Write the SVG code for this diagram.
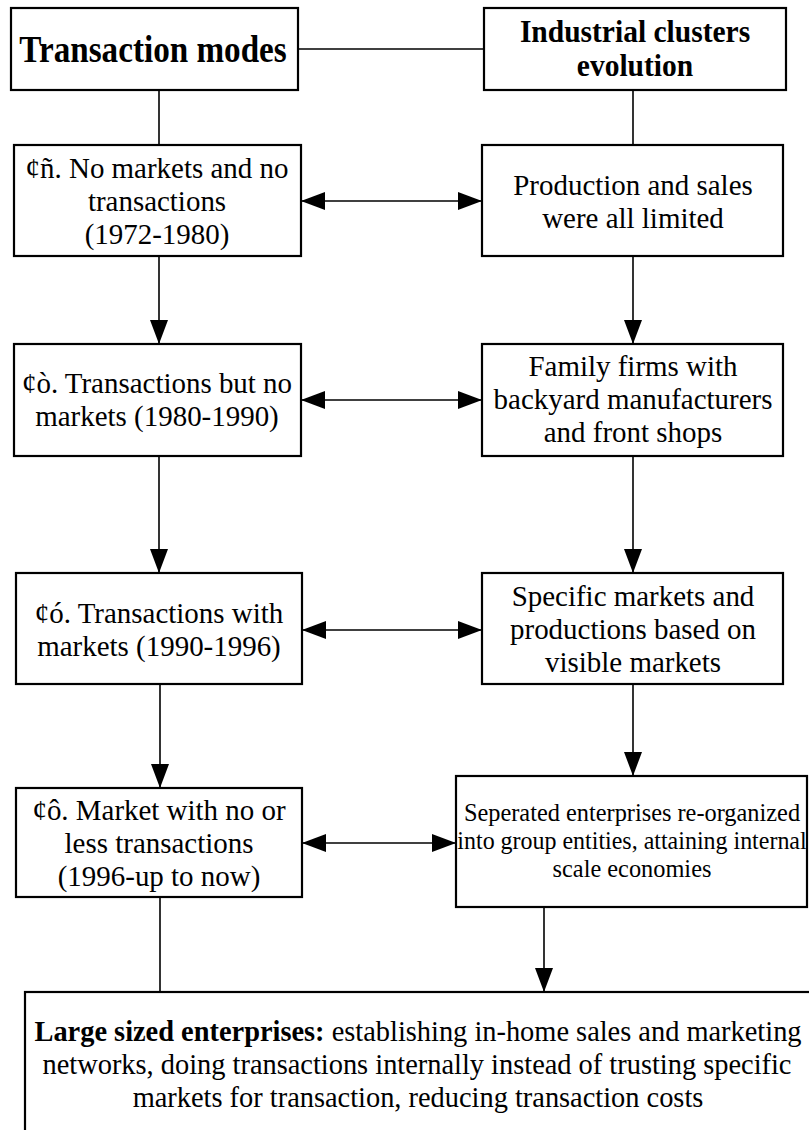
<svg xmlns="http://www.w3.org/2000/svg" width="809" height="1130" viewBox="0 0 809 1130">
<style>
  .box { fill: #fff; stroke: #000; stroke-width: 2.2; }
  .ln { fill: none; stroke: #000; stroke-width: 1.6; }
  .t { font-family: "Liberation Serif", "Times New Roman", serif; font-size: 30px; fill: #000; text-anchor: middle; }
  .hb { font-weight: bold; }
  .h1 { font-size: 38px; }
  .h2 { font-size: 31px; }
  .sm { font-size: 25.5px; }
  .bt { font-size: 29.5px; }
</style>
<defs>
  <marker id="ah" markerUnits="userSpaceOnUse" markerWidth="26" markerHeight="18" refX="24" refY="9" orient="auto-start-reverse">
    <path d="M0,0 L24,9 L0,18 z" fill="#000"/>
  </marker>
</defs>
<rect width="809" height="1130" fill="#fff"/>

<g id="connectors">
  <line class="ln" x1="298" y1="49" x2="484" y2="49"/>
  <line class="ln" x1="159" y1="90" x2="159" y2="145"/>
  <line class="ln" x1="633" y1="90" x2="633" y2="145"/>
  <line class="ln" x1="301" y1="201" x2="482" y2="201" marker-start="url(#ah)" marker-end="url(#ah)"/>
  <line class="ln" x1="301" y1="400" x2="482" y2="400" marker-start="url(#ah)" marker-end="url(#ah)"/>
  <line class="ln" x1="302" y1="630" x2="482" y2="630" marker-start="url(#ah)" marker-end="url(#ah)"/>
  <line class="ln" x1="302" y1="843" x2="456" y2="843" marker-start="url(#ah)" marker-end="url(#ah)"/>
  <line class="ln" x1="159" y1="256" x2="159" y2="344" marker-end="url(#ah)"/>
  <line class="ln" x1="633" y1="256" x2="633" y2="344" marker-end="url(#ah)"/>
  <line class="ln" x1="159" y1="456" x2="159" y2="573" marker-end="url(#ah)"/>
  <line class="ln" x1="633" y1="456" x2="633" y2="573" marker-end="url(#ah)"/>
  <line class="ln" x1="160" y1="684" x2="160" y2="788" marker-end="url(#ah)"/>
  <line class="ln" x1="633" y1="684" x2="633" y2="776" marker-end="url(#ah)"/>
  <line class="ln" x1="160" y1="897" x2="160" y2="991"/>
  <line class="ln" x1="544" y1="907" x2="544" y2="992" marker-end="url(#ah)"/>
</g>

<g id="node-transaction-modes">
  <rect class="box" x="11" y="8" width="287" height="82"/>
  <text class="t hb h1" transform="translate(153 62) scale(0.873 1)">Transaction modes</text>
</g>
<g id="node-industrial-clusters">
  <rect class="box" x="484" y="8" width="302" height="82"/>
  <text class="t hb h2" transform="translate(635 42) scale(0.952 1)">Industrial clusters</text>
  <text class="t hb h2" transform="translate(635 76) scale(0.952 1)">evolution</text>
</g>

<g id="node-mode1">
  <rect class="box" x="14" y="145" width="287" height="111"/>
  <text class="t" transform="translate(157 178) scale(0.965 1)">¢ñ. No markets and no</text>
  <text class="t" transform="translate(157 211) scale(0.965 1)">transactions</text>
  <text class="t" transform="translate(157 244) scale(0.965 1)">(1972-1980)</text>
</g>
<g id="node-evo1">
  <rect class="box" x="482" y="145" width="301" height="111"/>
  <text class="t" transform="translate(633 195) scale(0.965 1)">Production and sales</text>
  <text class="t" transform="translate(633 228) scale(0.965 1)">were all limited</text>
</g>

<g id="node-mode2">
  <rect class="box" x="14" y="344" width="287" height="112"/>
  <text class="t" transform="translate(157 393) scale(0.965 1)">¢ò. Transactions but no</text>
  <text class="t" transform="translate(157 426) scale(0.965 1)">markets (1980-1990)</text>
</g>
<g id="node-evo2">
  <rect class="box" x="482" y="344" width="301" height="112"/>
  <text class="t" transform="translate(633 376) scale(0.965 1)">Family firms with</text>
  <text class="t" transform="translate(633 409) scale(0.965 1)">backyard manufacturers</text>
  <text class="t" transform="translate(633 442) scale(0.965 1)">and front shops</text>
</g>

<g id="node-mode3">
  <rect class="box" x="16" y="573" width="286" height="111"/>
  <text class="t" transform="translate(159 623) scale(0.965 1)">¢ó. Transactions with</text>
  <text class="t" transform="translate(159 656) scale(0.965 1)">markets (1990-1996)</text>
</g>
<g id="node-evo3">
  <rect class="box" x="482" y="573" width="301" height="111"/>
  <text class="t" transform="translate(633 606) scale(0.965 1)">Specific markets and</text>
  <text class="t" transform="translate(633 639) scale(0.965 1)">productions based on</text>
  <text class="t" transform="translate(633 672) scale(0.965 1)">visible markets</text>
</g>

<g id="node-mode4">
  <rect class="box" x="16" y="788" width="286" height="109"/>
  <text class="t" transform="translate(159 820) scale(0.965 1)">¢ô. Market with no or</text>
  <text class="t" transform="translate(159 853) scale(0.965 1)">less transactions</text>
  <text class="t" transform="translate(159 886) scale(0.965 1)">(1996-up to now)</text>
</g>
<g id="node-evo4">
  <rect class="box" x="456" y="776" width="351" height="131"/>
  <text class="t sm" transform="translate(632 821) scale(0.955 1)">Seperated enterprises re-organized</text>
  <text class="t sm" transform="translate(632 849) scale(0.94 1)">into group entities, attaining internal</text>
  <text class="t sm" transform="translate(632 877) scale(0.955 1)">scale economies</text>
</g>

<g id="node-large-enterprises">
  <rect class="box" x="25" y="992" width="800" height="200" stroke-width="2.6"/>
  <text class="t bt" transform="translate(418 1041) scale(0.963 1)"><tspan font-weight="bold">Large sized enterprises:</tspan> establishing in-home sales and marketing</text>
  <text class="t bt" transform="translate(417 1074) scale(0.963 1)">networks, doing transactions internally instead of trusting specific</text>
  <text class="t bt" transform="translate(418 1107) scale(0.963 1)">markets for transaction, reducing transaction costs</text>
</g>
</svg>
